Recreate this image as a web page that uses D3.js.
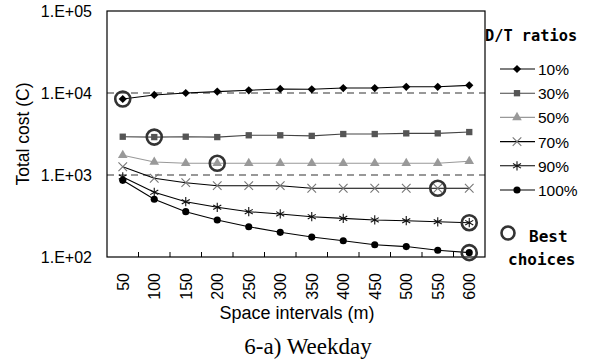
<!DOCTYPE html>
<html>
<head>
<meta charset="utf-8">
<script src="https://cdn.jsdelivr.net/npm/d3@7"></script>
<style>
  body { margin: 0; background: #fff; }
  text { font-family: "Liberation Sans", Arial, sans-serif; }
</style>
</head>
<body>
<div id="chart"></div>
<script>
const intervals = ["50","100","150","200","250","300","350","400","450","500","550","600"];
const ratios = ["10%","30%","50%","70%","90%","100%"];
const cost10  = [8450, 9460, 10000, 10400, 10800, 11200, 11100, 11500, 11500, 11900, 11900, 12400];
const cost30  = [2930, 2900, 2930, 2900, 3050, 3050, 3000, 3160, 3160, 3220, 3220, 3340];
const cost50  = [1740, 1440, 1390, 1390, 1390, 1390, 1390, 1390, 1390, 1390, 1390, 1470];
const cost70  = [1260, 912, 806, 741, 741, 741, 689, 689, 689, 689, 689, 689];
const cost90  = [946, 615, 472, 404, 357, 335, 310, 296, 283, 277, 269, 262];
const cost100 = [861, 506, 357, 283, 234, 200, 175, 158, 141, 134, 121, 113];
const bestChoice = ["50","100","200","550","600","600"];
const yTicks = [100, 1000, 10000, 100000];

// 10% uses a square turned 45 degrees, which gives the wide diamond of the original
const series = [
  {name: ratios[0], values: cost10,  line: "#000", fill: "#000", sym: d3.symbolSquare, rot: 45, size: 34, best: bestChoice[0]},
  {name: ratios[1], values: cost30,  line: "#444", fill: "#555", sym: d3.symbolSquare, size: 40, best: bestChoice[1]},
  {name: ratios[2], values: cost50,  line: "#999", fill: "#999", sym: d3.symbolTriangle, size: 40, best: bestChoice[2]},
  {name: ratios[3], values: cost70,  line: "#000", fill: "none", stroke: "#777", sym: d3.symbolTimes, size: 50, best: bestChoice[3]},
  {name: ratios[4], values: cost90,  line: "#000", fill: "none", stroke: "#111", sym: d3.symbolAsterisk, size: 60, best: bestChoice[4]},
  {name: ratios[5], values: cost100, line: "#000", fill: "#000", sym: d3.symbolCircle, size: 40, best: bestChoice[5]}
];

const width = 605, height = 363;
const plot = {left: 107, right: 485, top: 11, bottom: 257};

const svg = d3.select("#chart").append("svg")
  .attr("width", width)
  .attr("height", height);

const x = d3.scaleBand().domain(intervals).range([plot.left, plot.right]);
const y = d3.scaleLog().domain([100, 100000]).range([plot.bottom, plot.top]);
const cx = d => x(d) + x.bandwidth() / 2;

// dashed gridlines
svg.append("g").selectAll("line")
  .data([1000, 10000])
  .enter().append("line")
  .attr("x1", plot.left).attr("x2", plot.right)
  .attr("y1", d => y(d)).attr("y2", d => y(d))
  .attr("stroke", "#777").attr("stroke-width", 1.3)
  .attr("stroke-dasharray", "7,5");

// plot frame
svg.append("rect")
  .attr("x", plot.left).attr("y", plot.top)
  .attr("width", plot.right - plot.left).attr("height", plot.bottom - plot.top)
  .attr("fill", "none").attr("stroke", "#000").attr("stroke-width", 1.2);

// x axis ticks at band boundaries, pointing inward
svg.append("g").selectAll("line")
  .data(intervals.slice(1))
  .enter().append("line")
  .attr("x1", d => x(d)).attr("x2", d => x(d))
  .attr("y1", plot.bottom).attr("y2", plot.bottom - 5)
  .attr("stroke", "#000");

svg.append("g").selectAll("text")
  .data(intervals)
  .enter().append("text")
  .attr("transform", d => "translate(" + (cx(d) + 6) + "," + (plot.bottom + 16) + ") rotate(-90)")
  .attr("text-anchor", "end")
  .attr("font-size", 16)
  .text(d => d);

// y axis labels
svg.append("g").selectAll("text")
  .data(yTicks)
  .enter().append("text")
  .attr("x", 92).attr("y", d => y(d) + 6)
  .attr("text-anchor", "end")
  .attr("font-size", 16)
  .text(d => "1.E+0" + Math.round(Math.log10(d)));

svg.append("text")
  .attr("transform", "translate(29,134) rotate(-90)")
  .attr("text-anchor", "middle")
  .attr("font-size", 17.5)
  .text("Total cost (C)");

svg.append("text")
  .attr("x", 297).attr("y", 319)
  .attr("text-anchor", "middle")
  .attr("font-size", 18)
  .text("Space intervals (m)");

svg.append("text")
  .attr("x", 308).attr("y", 354)
  .attr("text-anchor", "middle")
  .attr("font-size", 23)
  .style("font-family", "'Liberation Serif', 'Times New Roman', serif")
  .text("6-a) Weekday");

// series lines and markers
const line = d3.line().x((d, i) => cx(intervals[i])).y(d => y(d));

series.forEach(s => {
  svg.append("path")
    .attr("d", line(s.values))
    .attr("fill", "none")
    .attr("stroke", s.line)
    .attr("stroke-width", 1.1);
  svg.append("g").selectAll("path")
    .data(s.values)
    .enter().append("path")
    .attr("transform", (d, i) => "translate(" + cx(intervals[i]) + "," + y(d) + ") rotate(" + (s.rot || 0) + ")")
    .attr("d", d3.symbol().type(s.sym).size(s.size))
    .attr("fill", s.fill)
    .attr("stroke", s.stroke || "none")
    .attr("stroke-width", 1.1);
});

// best choices circles
svg.append("g").selectAll("circle")
  .data(series)
  .enter().append("circle")
  .attr("cx", s => cx(s.best))
  .attr("cy", s => y(s.values[intervals.indexOf(s.best)]))
  .attr("r", 7.5)
  .attr("fill", "none")
  .attr("stroke", "#333")
  .attr("stroke-width", 2.6);

// legend
const legend = svg.append("g");
legend.append("text")
  .attr("x", 485).attr("y", 41)
  .attr("font-size", 15.3)
  .attr("font-weight", "bold")
  .style("font-family", "'DejaVu Sans Mono', monospace")
  .text("D/T ratios");

series.forEach((s, i) => {
  const ly = 69 + i * 24.2;
  legend.append("line")
    .attr("x1", 500).attr("x2", 535)
    .attr("y1", ly).attr("y2", ly)
    .attr("stroke", s.line).attr("stroke-width", 1.1);
  legend.append("path")
    .attr("transform", "translate(517," + ly + ") rotate(" + (s.rot || 0) + ")")
    .attr("d", d3.symbol().type(s.sym).size(s.size))
    .attr("fill", s.fill)
    .attr("stroke", s.stroke || "none")
    .attr("stroke-width", 1.1);
  legend.append("text")
    .attr("x", 538).attr("y", ly + 6)
    .attr("font-size", 15.5)
    .text(s.name);
});

legend.append("circle")
  .attr("cx", 508).attr("cy", 233).attr("r", 6.5)
  .attr("fill", "none").attr("stroke", "#333").attr("stroke-width", 2.6);
legend.append("text")
  .attr("x", 529).attr("y", 242)
  .attr("font-size", 16).attr("font-weight", "bold")
  .style("font-family", "'DejaVu Sans Mono', monospace")
  .text("Best");
legend.append("text")
  .attr("x", 508).attr("y", 265)
  .attr("font-size", 16).attr("font-weight", "bold")
  .style("font-family", "'DejaVu Sans Mono', monospace")
  .text("choices");
</script>
</body>
</html>
